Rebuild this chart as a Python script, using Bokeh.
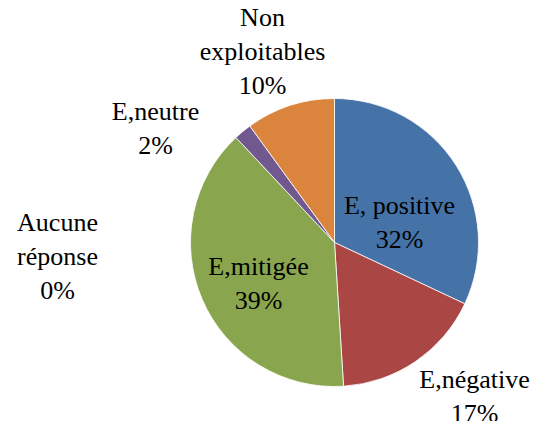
import math
from bokeh.plotting import figure
from bokeh.models import Range1d, ColumnDataSource
from bokeh.core.properties import value
from bokeh.embed import file_html
from bokeh.resources import INLINE

# Data
categories = ["E, positive", "E,négative", "E,mitigée", "Aucune réponse", "E,neutre", "Non exploitables"]
label_text = ["E, positive", "E,négative", "E,mitigée", "Aucune\nréponse", "E,neutre", "Non\nexploitables"]
percents = [32, 17, 39, 0, 2, 10]
colors = ["#4572A7", "#AA4643", "#89A54E", "#4198AF", "#71588F", "#DB843D"]

# Layout (page pixels; y measured upward in data space)
W, H = 536, 421
cx, cy, r = 334, 421 - 242, 144
label_pos = [(399, 222), (474, 396), (258, 283), (57, 256), (155, 128), (262, 51)]

total = float(sum(percents))
starts, ends, cols = [], [], []
acc = 0.0
for v, c in zip(percents, colors):
    a0 = math.pi / 2 - 2 * math.pi * acc / total
    acc += v
    a1 = math.pi / 2 - 2 * math.pi * acc / total
    if v > 0:
        starts.append(a0)
        ends.append(a1)
        cols.append(c)

p = figure(width=W, height=H, output_backend="svg", toolbar_location=None,
           x_range=Range1d(0, W), y_range=Range1d(421 - H, 421),
           min_border=0)
p.axis.visible = False
p.grid.visible = False
p.outline_line_color = None
p.background_fill_color = "white"

src = ColumnDataSource(dict(start=starts, end=ends, color=cols,
                            x=[cx] * len(cols), y=[cy] * len(cols)))
p.wedge(x="x", y="y", radius=r, start_angle="start", end_angle="end",
        direction="clock", fill_color="color", line_color="white",
        line_width=0.8, source=src)

texts = [f"{t}\n{v}%" for t, v in zip(label_text, percents)]
lx = [pos[0] for pos in label_pos]
ly = [421 - pos[1] for pos in label_pos]
p.text(x=lx, y=ly, text=texts,
       text_font=value("Liberation Serif"),
       text_font_size="26px", text_align="center", text_baseline="middle",
       text_color="black", text_line_height=1.18)

open("out.html", "w").write(file_html(p, INLINE))
